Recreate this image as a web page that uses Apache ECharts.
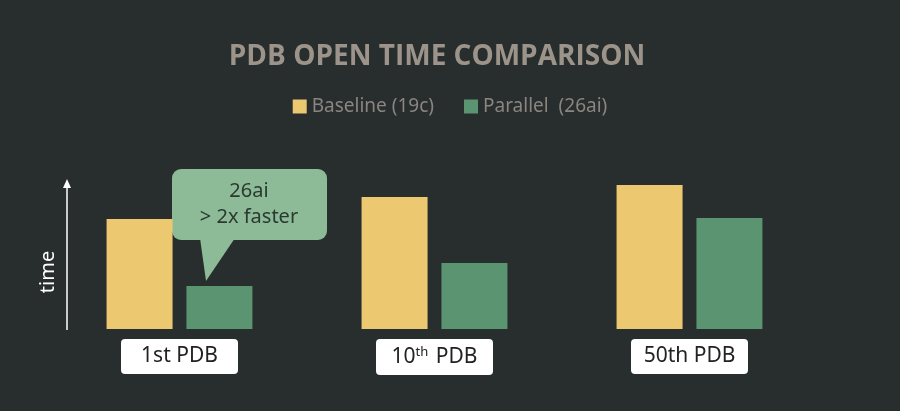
<!DOCTYPE html>
<html><head><meta charset="utf-8">
<script src="https://cdn.jsdelivr.net/npm/echarts@6/dist/echarts.min.js"></script>
<style>html,body{margin:0;padding:0;background:#282d2d;}#c{width:900px;height:411px;}</style>
</head><body><div id="c"></div>
<script>
const categories = ['1st PDB', '10th PDB', '50th PDB'];
const baseline = [61.5, 73.7, 80.4];
const parallel = [24, 36.9, 62];
const seriesNames = ['Baseline (19c)', 'Parallel  (26ai)'];

const chart = echarts.init(document.getElementById('c'));
chart.setOption({
  backgroundColor: '#282d2d',
  title: { text: 'PDB OPEN TIME COMPARISON', left: 432, top: 38, textAlign: 'center',
    textStyle: { color: '#9c948a', fontSize: 28, fontWeight: 'bold', fontFamily: 'Open Sans', letterSpacing: 4 } },
  legend: { top: 92, left: 'center', itemWidth: 14, itemHeight: 14, itemGap: 30, icon: 'rect',
    textStyle: { color: '#8a8580', fontSize: 19, fontFamily: 'Noto Sans' }, data: seriesNames },
  grid: { left: 52, right: 83, top: 150, bottom: 82 },
  xAxis: { type: 'category', data: categories,
    axisLine: { show: false }, axisTick: { show: false },
    axisLabel: { margin: 10, color: '#222', fontSize: 21, fontFamily: 'Noto Sans',
      backgroundColor: '#fff', borderRadius: 4, padding: [7, 12, 7, 12], width: 93, align: 'center',
      formatter: v => v === '10th PDB' ? '10{s|th} PDB' : v,
      rich: { s: { fontSize: 13, verticalAlign: 'top', color: '#222', fontFamily: 'Noto Sans', padding: [0, 2, 9, 0] } } } },
  yAxis: { type: 'value', min: 0, max: 100, show: false },
  series: [
    { name: seriesNames[0], type: 'bar', data: baseline, barWidth: 66, barGap: '21%', itemStyle: { color: '#ecc870' } },
    { name: seriesNames[1], type: 'bar', data: parallel, barWidth: 66, itemStyle: { color: '#5a9470' } }
  ],
  graphic: [
    { type: 'line', shape: { x1: 67, y1: 330, x2: 67, y2: 182 }, style: { stroke: '#fff', lineWidth: 1.5 } },
    { type: 'polygon', shape: { points: [[63, 188], [67, 179], [71, 188]] }, style: { fill: '#fff' } },
    { type: 'text', x: 48, y: 272, rotation: Math.PI / 2, style: { text: 'time', fill: '#fff', fontSize: 20, fontFamily: 'Noto Sans', align: 'center', verticalAlign: 'middle' } },
    { type: 'polygon', shape: { points: [[200, 238], [206, 281], [235, 238]] }, style: { fill: '#8dbb98' } },
    { type: 'rect', shape: { x: 172, y: 169, width: 155, height: 71, r: 9 }, style: { fill: '#8dbb98' } },
    { type: 'text', x: 249, y: 204, style: { text: '26ai\n> 2x faster', fill: '#2b3a30', fontSize: 20, lineHeight: 26, fontFamily: 'Noto Sans', align: 'center', verticalAlign: 'middle' } }
  ]
});
</script></body></html>
